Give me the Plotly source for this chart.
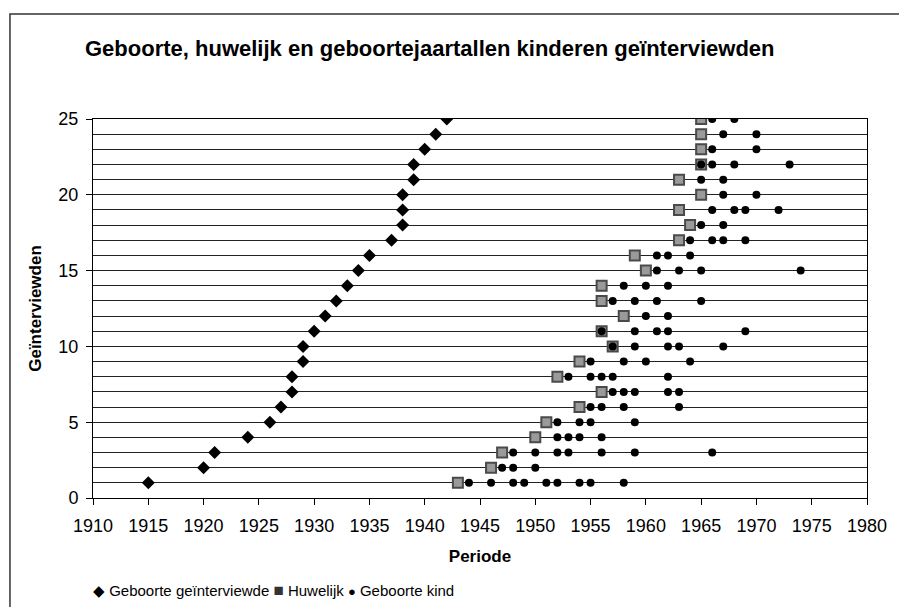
import plotly.graph_objects as go

# ---- data ----
interviewees = list(range(1, 26))
birth_years = [1915, 1920, 1921, 1924, 1926, 1927, 1928, 1928, 1929, 1929,
               1930, 1931, 1932, 1933, 1934, 1935, 1937, 1938, 1938, 1938,
               1939, 1939, 1940, 1941, 1942]
marriage_years = [1943, 1946, 1947, 1950, 1951, 1954, 1956, 1952, 1954, 1957,
                  1956, 1958, 1956, 1956, 1960, 1959, 1963, 1964, 1963, 1965,
                  1963, 1965, 1965, 1965, 1965]
children_years = [
    [1944, 1946, 1948, 1949, 1951, 1952, 1954, 1955, 1958],
    [1947, 1948, 1950],
    [1948, 1950, 1952, 1953, 1956, 1959, 1966],
    [1952, 1953, 1954, 1956],
    [1952, 1954, 1955, 1959],
    [1955, 1956, 1958, 1963],
    [1957, 1958, 1959, 1962, 1963],
    [1953, 1955, 1956, 1957, 1962],
    [1955, 1958, 1960, 1964],
    [1957, 1959, 1962, 1963, 1967],
    [1956, 1959, 1961, 1962, 1969],
    [1960, 1962],
    [1957, 1959, 1961, 1965],
    [1958, 1960, 1962],
    [1961, 1963, 1965, 1974],
    [1961, 1962, 1964],
    [1964, 1966, 1967, 1969],
    [1965, 1967],
    [1966, 1968, 1969, 1972],
    [1967, 1970],
    [1965, 1967],
    [1965, 1966, 1968, 1973],
    [1966, 1970],
    [1967, 1970],
    [1966, 1968],
]
x_ticks = list(range(1910, 1981, 5))
y_ticks = [0, 5, 10, 15, 20, 25]
series_names = ["Geboorte geïnterviewde", "Huwelijk", "Geboorte kind"]

child_x = [yr for kids in children_years for yr in kids]
child_y = [iv for iv, kids in zip(interviewees, children_years) for _ in kids]

FONT = "Liberation Sans, Arial, sans-serif"

fig = go.Figure()
fig.add_trace(go.Scatter(
    x=birth_years, y=interviewees, mode="markers", name=series_names[0],
    marker=dict(symbol="diamond", size=10, color="black",
                line=dict(color="black", width=0))))
fig.add_trace(go.Scatter(
    x=marriage_years, y=interviewees, mode="markers", name=series_names[1],
    marker=dict(symbol="square", size=10, color="#9a9a9a",
                line=dict(color="#4a4a4a", width=2))))
fig.add_trace(go.Scatter(
    x=child_x, y=child_y, mode="markers", name=series_names[2],
    marker=dict(symbol="circle", size=8, color="black",
                line=dict(color="black", width=0))))

# figure-pixel layout (page adds an 8px body margin)
W, H = 891, 599
L, R, T, B = 85, 868, 111, 490

def px2paper_x(px):
    return (px - L) / (R - L)

def px2paper_y(py):
    return (B - py) / (B - T)

legend_text = (
    '<span style="font-size:15px">◆</span> ' + series_names[0] +
    ' <span style="font-size:17px;color:#333">■</span> ' + series_names[1] +
    ' <span style="font-size:13px">●</span> ' + series_names[2]
)

fig.update_layout(
    width=W, height=H,
    margin=dict(l=L, r=W - R, t=T, b=H - B),
    paper_bgcolor="white", plot_bgcolor="white",
    font=dict(family=FONT, color="black", size=17),
    title=dict(text="<b>Geboorte, huwelijk en geboortejaartallen kinderen geïnterviewden</b>",
               x=77 / W, xref="container", xanchor="left",
               y=1 - 40 / H, yref="container", yanchor="middle",
               font=dict(size=22, family=FONT)),
    showlegend=False,
    xaxis=dict(range=[1910, 1980], tickvals=x_ticks, ticks="outside", ticklen=6,
               tickcolor="black", showline=True, linecolor="black", linewidth=1,
               mirror=True, showgrid=False, zeroline=False,
               tickfont=dict(size=18), ticklabelstandoff=5,
               title=dict(text="<b>Periode</b>", font=dict(size=17), standoff=15)),
    yaxis=dict(range=[0, 25], tickvals=y_ticks, ticks="outside", ticklen=6,
               tickcolor="black", showline=True, linecolor="black", linewidth=1,
               mirror=True, showgrid=True, gridcolor="#222", gridwidth=1,
               zeroline=False, tickfont=dict(size=18), ticklabelstandoff=4,
               minor=dict(dtick=1, tick0=0, showgrid=True, gridcolor="#222",
                          gridwidth=1, ticks=""),
               title=dict(text="<b>Geïnterviewden</b>", font=dict(size=17), standoff=12)),
    annotations=[dict(text=legend_text, xref="paper", yref="paper",
                      x=px2paper_x(83), xanchor="left",
                      y=px2paper_y(582), yanchor="middle",
                      showarrow=False, font=dict(size=15, family=FONT))],
    shapes=[dict(type="rect", xref="paper", yref="paper",
                 x0=px2paper_x(1), x1=px2paper_x(920),
                 y0=px2paper_y(640), y1=px2paper_y(6),
                 line=dict(color="#333", width=1.5), fillcolor="rgba(0,0,0,0)",
                 layer="below")],
)

fig.write_html("out.html")
